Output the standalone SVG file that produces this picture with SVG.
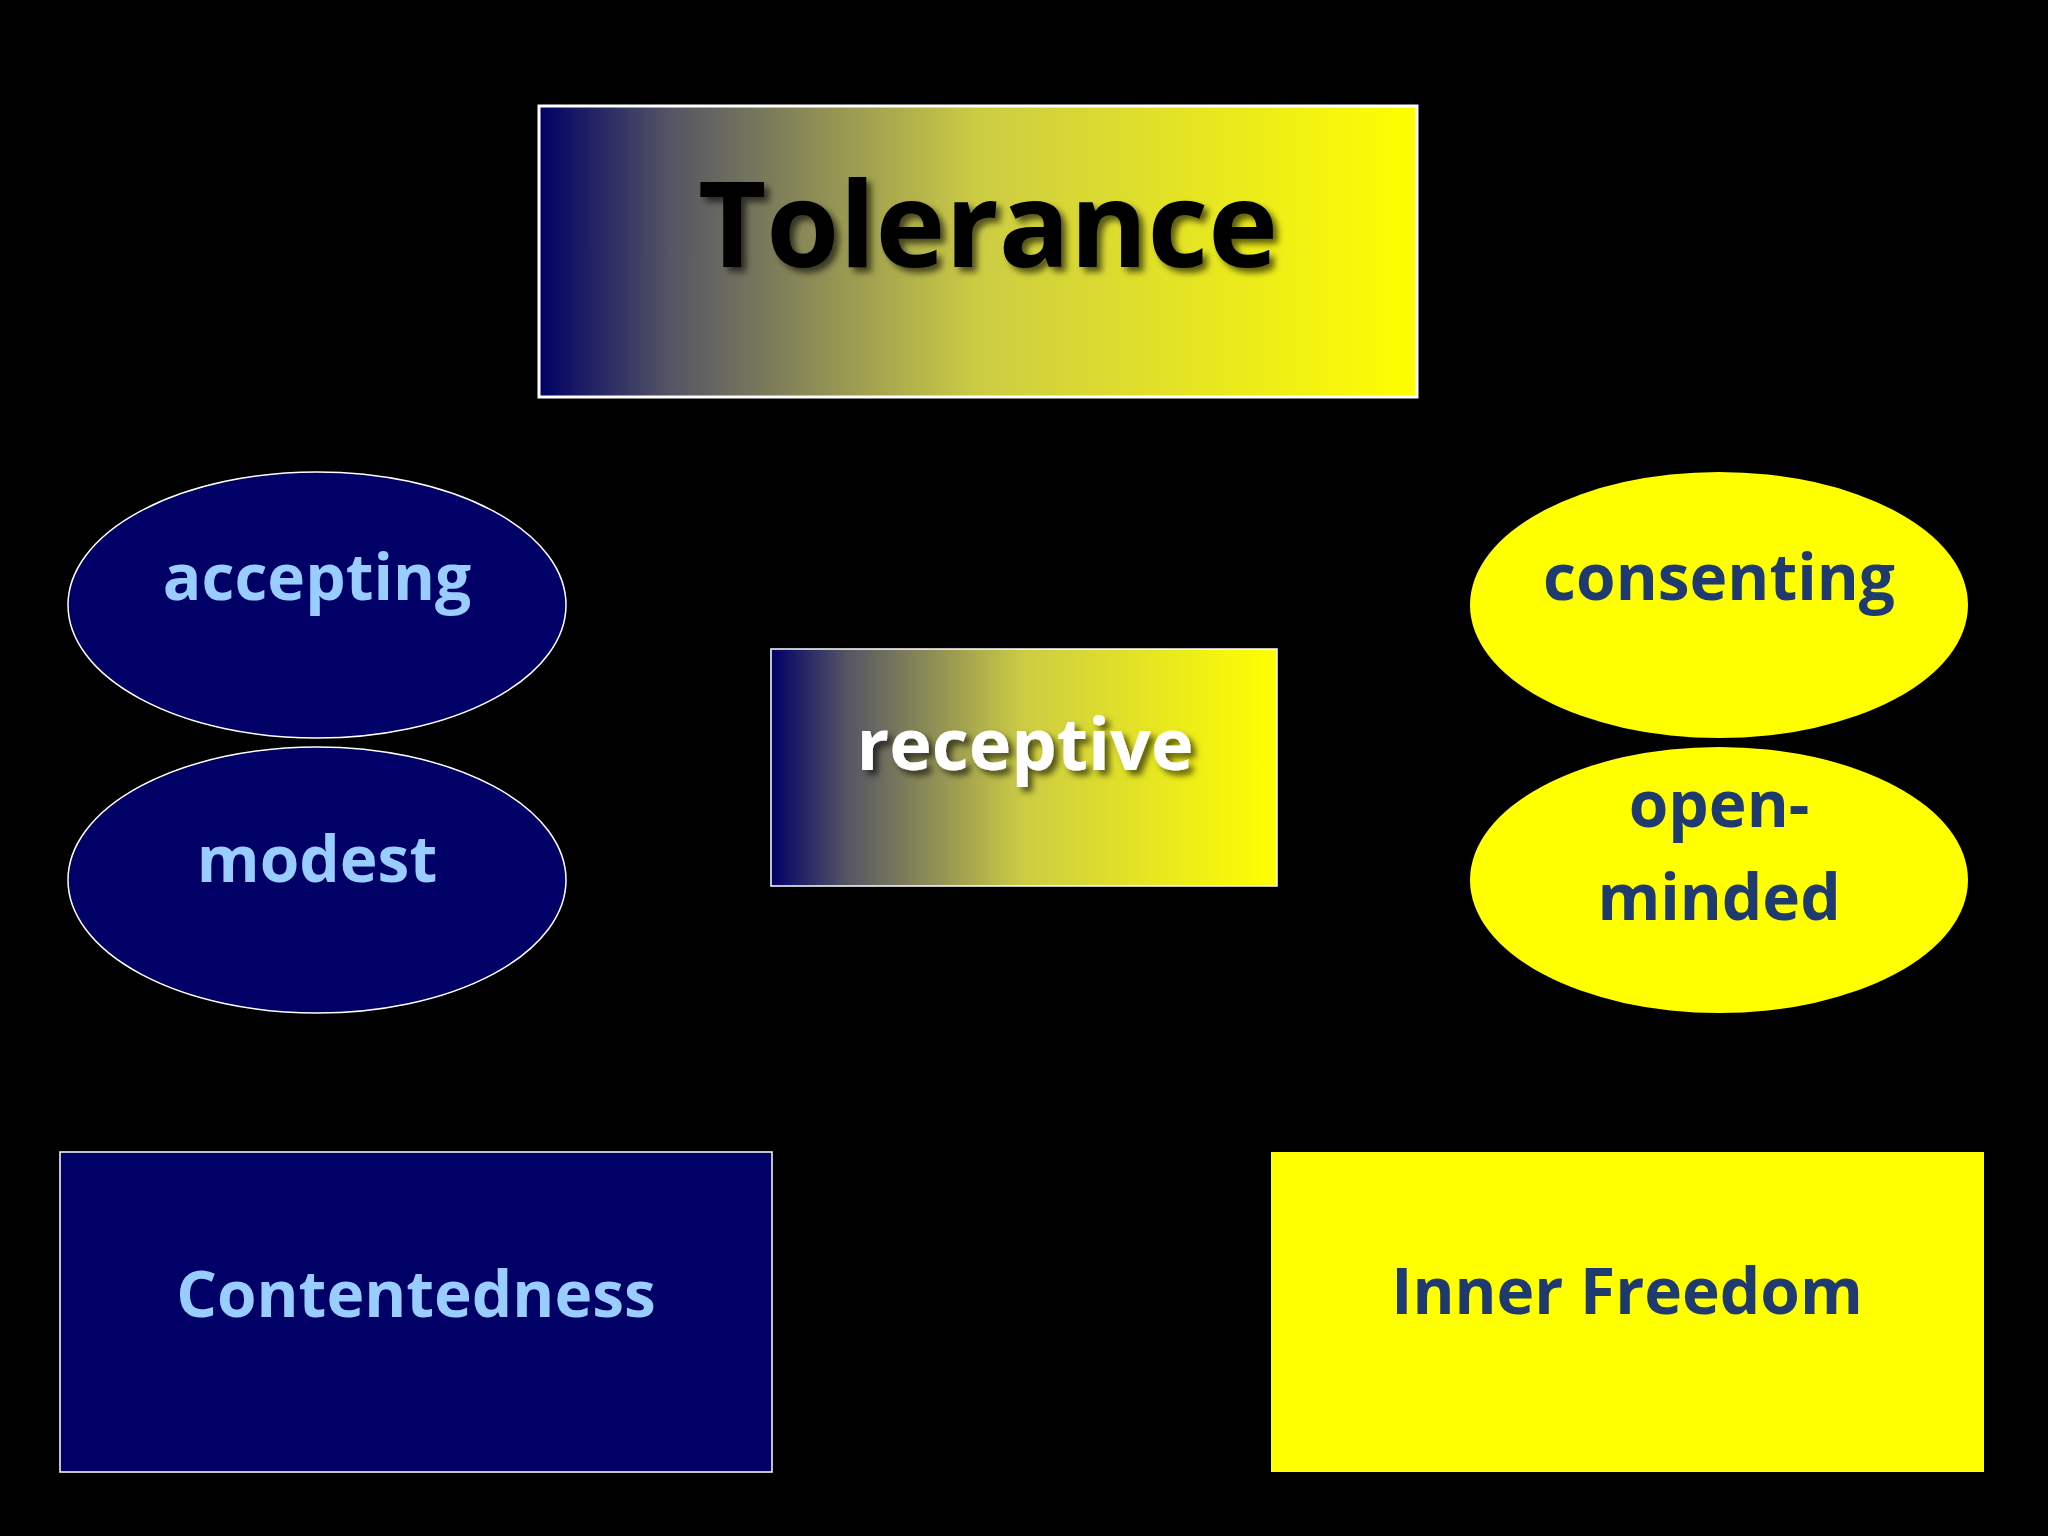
<svg xmlns="http://www.w3.org/2000/svg" width="2048" height="1536" viewBox="0 0 2048 1536">
<defs>
<linearGradient id="g" x1="0" y1="0" x2="1" y2="0">
<stop offset="0" stop-color="#000066"/>
<stop offset="0.15" stop-color="#555566"/>
<stop offset="0.5" stop-color="#cccc44"/>
<stop offset="1" stop-color="#ffff00"/>
</linearGradient>
<filter id="sh" x="-10%" y="-10%" width="130%" height="140%">
<feGaussianBlur in="SourceAlpha" stdDeviation="3"/>
<feOffset dx="5" dy="5" result="b"/>
<feFlood flood-color="#000" flood-opacity="0.6"/>
<feComposite in2="b" operator="in"/>
<feMerge><feMergeNode/><feMergeNode in="SourceGraphic"/></feMerge>
</filter>
</defs>
<style>
text{font-family:"Open Sans","Liberation Sans",sans-serif;font-weight:bold;text-anchor:middle}
.navy{fill:#000066;stroke:#ffffff;stroke-width:1.5}
.yel{fill:#ffff00}
.lt{fill:#99ccff;font-size:64px}
.dk{fill:#1f3a6e;font-size:64px}
</style>
<rect width="2048" height="1536" fill="#000"/>
<g id="tolerance">
<rect x="539" y="106" width="878" height="291" fill="url(#g)" stroke="#fff" stroke-width="3"/>
<text x="988" y="267" font-size="118" fill="#000" filter="url(#sh)">Tolerance</text>
</g>
<g id="accepting"><ellipse cx="317" cy="605" rx="249" ry="133" class="navy"/><text x="317" y="600" class="lt">accepting</text></g>
<g id="modest"><ellipse cx="317" cy="880" rx="249" ry="133" class="navy"/><text x="317" y="882" class="lt">modest</text></g>
<g id="consenting"><ellipse cx="1719" cy="605" rx="249" ry="133" class="yel"/><text x="1719" y="600" class="dk">consenting</text></g>
<g id="open-minded"><ellipse cx="1719" cy="880" rx="249" ry="133" class="yel"/><text x="1719" y="827" class="dk">open-</text><text x="1719" y="920" class="dk">minded</text></g>
<g id="receptive">
<rect x="771" y="649" width="506" height="237" fill="url(#g)" stroke="#fff" stroke-width="1.5"/>
<text x="1025" y="770" font-size="72" fill="#fff" filter="url(#sh)">receptive</text>
</g>
<g id="contentedness"><rect x="60" y="1152" width="712" height="320" class="navy"/><text x="416" y="1317" class="lt" font-size="76">Contentedness</text></g>
<g id="inner-freedom"><rect x="1271" y="1152" width="713" height="320" class="yel"/><text x="1627" y="1314" class="dk" font-size="76">Inner Freedom</text></g>
<g id="connectors"/>
</svg>
